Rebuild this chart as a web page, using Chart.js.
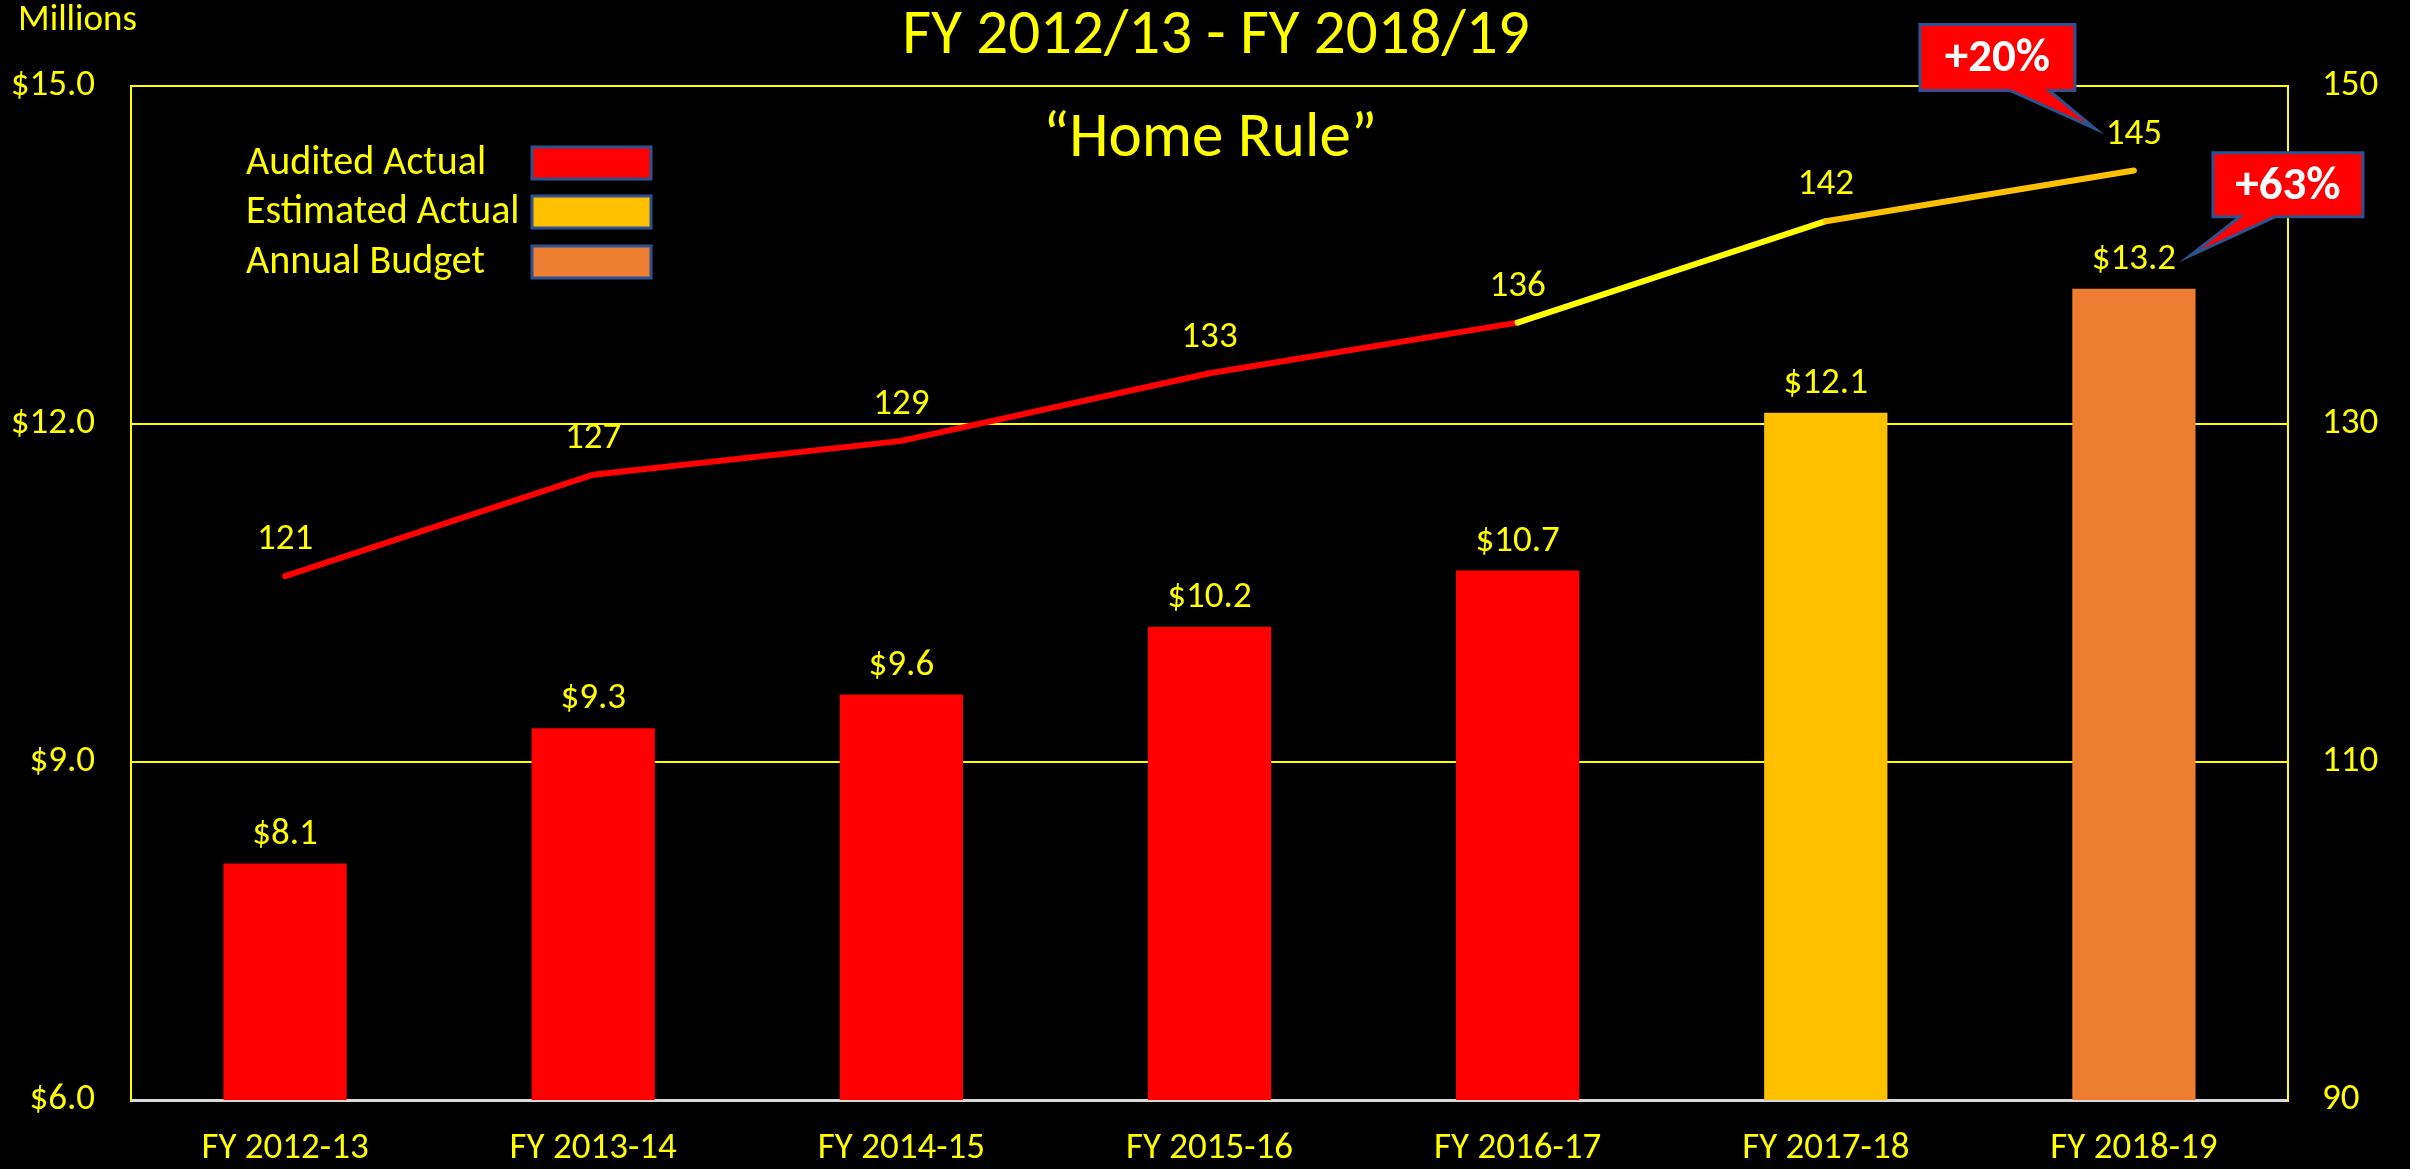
<!DOCTYPE html>
<html>
<head>
<meta charset="utf-8">
<script src="https://cdn.jsdelivr.net/npm/chart.js@4.4.1/dist/chart.umd.min.js"></script>
<style>
  html, body { margin: 0; padding: 0; background: #000; }
  #wrap { width: 2410px; height: 1169px; position: relative; }
</style>
</head>
<body>
<div id="wrap"><canvas id="c" width="2410" height="1169"></canvas></div>
<script>
// ---- data ----
const categories = ['FY 2012-13', 'FY 2013-14', 'FY 2014-15', 'FY 2015-16', 'FY 2016-17', 'FY 2017-18', 'FY 2018-19'];
const revenueMillions = [8.1, 9.3, 9.6, 10.2, 10.7, 12.1, 13.2];
const lineValues = [121, 127, 129, 133, 136, 142, 145];
const barStatus = ['audited', 'audited', 'audited', 'audited', 'audited', 'estimated', 'budget'];
const legendLabels = ['Audited Actual', 'Estimated Actual', 'Annual Budget'];
const leftTicks = [6, 9, 12, 15];
const rightTicks = [90, 110, 130, 150];
const titleText = 'FY 2012/13 - FY 2018/19';
const subtitleText = '\u201CHome Rule\u201D';
const unitText = 'Millions';
const callout1 = '+20%';
const callout2 = '+63%';

// ---- styles ----
const YEL = '#FFFF00';
const statusColor = { audited: '#FF0000', estimated: '#FFC000', budget: '#ED7D31' };
const legendColors = ['#FF0000', '#FFC000', '#ED7D31'];
const segColors = ['#FF0000', '#FF0000', '#FF0000', '#FF0000', '#FFFF00', '#FFC000'];
const FONT = 'Carlito, Lato, sans-serif';
Chart.defaults.font.family = FONT;
Chart.defaults.color = YEL;

const overlay = {
  id: 'overlay',
  afterDatasetsDraw(chart) {
    const ctx = chart.ctx;
    ctx.save();
    ctx.fillStyle = YEL;
    ctx.textAlign = 'center';
    ctx.textBaseline = 'middle';
    ctx.font = '37px ' + FONT;
    const bm = chart.getDatasetMeta(1);
    bm.data.forEach((el, i) => {
      ctx.fillText('$' + revenueMillions[i].toFixed(1), el.x, el.y - 29);
    });
    const lm = chart.getDatasetMeta(0);
    lm.data.forEach((el, i) => {
      ctx.fillText(String(lineValues[i]), el.x, el.y - 36);
    });
    ctx.restore();
  },
  afterDraw(chart) {
    const ctx = chart.ctx;
    ctx.save();
    ctx.fillStyle = YEL;
    ctx.textBaseline = 'middle';
    ctx.textAlign = 'center';
    ctx.font = '63px ' + FONT;
    ctx.fillText(titleText, 1216, 37);
    ctx.fillText(subtitleText, 1210, 140);
    ctx.textAlign = 'left';
    ctx.font = '37px ' + FONT;
    ctx.fillText(unitText, 18, 21);
    // legend
    ctx.font = '40px ' + FONT;
    const ly = [163, 212, 262];
    legendLabels.forEach((t, i) => {
      ctx.fillStyle = YEL;
      ctx.textAlign = 'left';
      ctx.fillText(t, 246, ly[i] + 1);
      ctx.fillStyle = legendColors[i];
      ctx.fillRect(532, ly[i] - 16, 119, 32);
      ctx.strokeStyle = '#2F528F';
      ctx.lineWidth = 3;
      ctx.strokeRect(532, ly[i] - 16, 119, 32);
    });
    // callouts
    const lm = chart.getDatasetMeta(0).data;
    const bm = chart.getDatasetMeta(1).data;
    const p = lm[lm.length - 1];
    const b = bm[bm.length - 1];
    function callout(L, T, R, B, b1, b2, tx, ty, text) {
      ctx.beginPath();
      ctx.moveTo(L, T); ctx.lineTo(R, T); ctx.lineTo(R, B);
      ctx.lineTo(b2, B); ctx.lineTo(tx, ty); ctx.lineTo(b1, B);
      ctx.lineTo(L, B); ctx.closePath();
      ctx.fillStyle = '#FF0000';
      ctx.fill();
      ctx.strokeStyle = '#2F528F';
      ctx.lineWidth = 3;
      ctx.lineJoin = 'miter';
      ctx.stroke();
      ctx.fillStyle = '#FFFFFF';
      ctx.textAlign = 'center';
      ctx.textBaseline = 'middle';
      ctx.font = 'bold 47px ' + FONT;
      ctx.fillText(text, (L + R) / 2, (T + B) / 2 + 2);
    }
    callout(p.x - 214, p.y - 146, p.x - 59, p.y - 80, p.x - 124, p.x - 85, p.x - 39, p.y - 42, callout1);
    callout(b.x + 79, b.y - 136, b.x + 229, b.y - 72, b.x + 106, b.x + 141, b.x + 56, b.y - 33, callout2);
    ctx.restore();
  }
};

new Chart(document.getElementById('c'), {
  data: {
    labels: categories,
    datasets: [
      {
        type: 'line',
        data: lineValues,
        yAxisID: 'y1',
        order: 0,
        borderWidth: 6,
        borderCapStyle: 'round',
        borderColor: '#FF0000',
        pointRadius: 0,
        tension: 0,
        segment: { borderColor: c => segColors[c.p0DataIndex] }
      },
      {
        type: 'bar',
        data: revenueMillions,
        yAxisID: 'y',
        order: 1,
        backgroundColor: barStatus.map(s => statusColor[s]),
        borderWidth: 0,
        categoryPercentage: 1.0,
        barPercentage: 0.4
      }
    ]
  },
  options: {
    responsive: false,
    devicePixelRatio: 1,
    animation: false,
    layout: { padding: { top: 86, left: 0, right: 0, bottom: 0 } },
    plugins: { legend: { display: false }, tooltip: { enabled: false }, title: { display: false } },
    scales: {
      x: {
        position: 'bottom',
        grid: { display: false, drawTicks: false },
        border: { display: true, color: '#D9D9D9', width: 3 },
        ticks: { color: YEL, font: { size: 37 }, padding: 27, maxRotation: 0 },
        afterFit: s => { s.height = 69; }
      },
      y: {
        position: 'left',
        min: leftTicks[0], max: leftTicks[leftTicks.length - 1],
        afterBuildTicks: s => { s.ticks = leftTicks.map(v => ({ value: v })); },
        grid: { drawTicks: false, lineWidth: 2, color: c => (c.tick && c.tick.value === leftTicks[0]) ? 'rgba(0,0,0,0)' : YEL },
        border: { display: true, color: YEL, width: 2 },
        ticks: { color: YEL, font: { size: 37 }, padding: 36, callback: v => '$' + Number(v).toFixed(1) },
        afterFit: s => { s.width = 131; }
      },
      y1: {
        position: 'right',
        min: rightTicks[0], max: rightTicks[rightTicks.length - 1],
        afterBuildTicks: s => { s.ticks = rightTicks.map(v => ({ value: v })); },
        grid: { display: false, drawTicks: false },
        border: { display: true, color: YEL, width: 2 },
        ticks: { color: YEL, font: { size: 37 }, padding: 34, callback: v => String(v) },
        afterFit: s => { s.width = 122; }
      }
    }
  },
  plugins: [overlay]
});
</script>
</body>
</html>
